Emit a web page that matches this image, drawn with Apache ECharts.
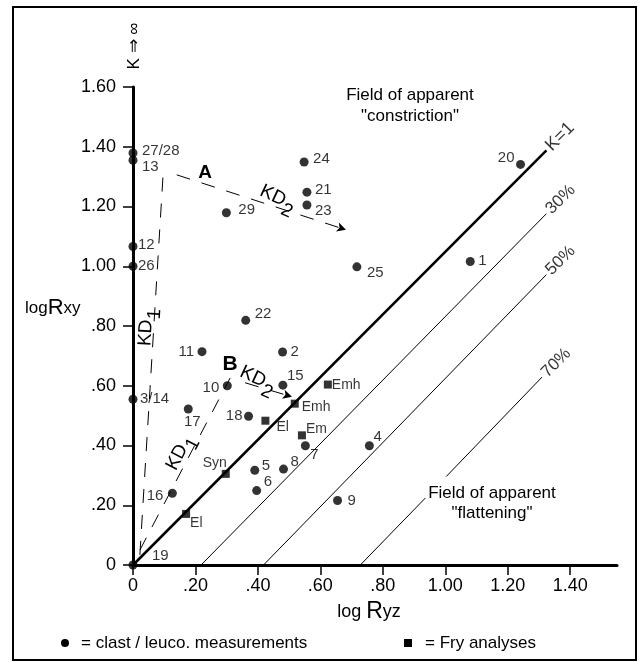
<!DOCTYPE html>
<html>
<head>
<meta charset="utf-8">
<title>logRxy / log Ryz</title>
<script src="https://cdn.jsdelivr.net/npm/echarts@6/dist/echarts.min.js"></script>
<style>
    html, body { margin: 0; padding: 0; background: #fff; }
    #main { width: 640px; height: 662px; }
</style>
</head>
<body>
<div id="main"></div>
<script>
    // axis ticks
    var xTicks = [0, 0.2, 0.4, 0.6, 0.8, 1.0, 1.2, 1.4];
    var xTickLabels = ['0', '.20', '.40', '.60', '.80', '1.00', '1.20', '1.40'];
    var yTicks = [0, 0.2, 0.4, 0.6, 0.8, 1.0, 1.2, 1.4, 1.6];
    var yTickLabels = ['0', '.20', '.40', '.60', '.80', '1.00', '1.20', '1.40', '1.60'];

    // clast / leuco. measurements
    var clastNames = ['27/28', '13', '12', '26', '29', '24', '21', '23', '25', '20', '1', '22', '11', '2',
        '15', '10', '3/14', '17', '18', '16', '5', '6', '8', '7', '4', '9', '19'];
    var clastRyz = [0, 0, 0, 0, 0.299, 0.548, 0.557, 0.557, 0.717, 1.241, 1.080, 0.361, 0.221, 0.479,
        0.480, 0.302, 0, 0.177, 0.370, 0.126, 0.390, 0.396, 0.482, 0.552, 0.757, 0.655, 0];
    var clastRxy = [1.379, 1.355, 1.066, 1.000, 1.179, 1.349, 1.248, 1.205, 0.998, 1.341, 1.016, 0.819, 0.714, 0.713,
        0.602, 0.600, 0.555, 0.522, 0.498, 0.240, 0.317, 0.249, 0.321, 0.399, 0.399, 0.216, 0];

    // Fry analyses
    var fryNames = ['El', 'Syn', 'El', 'Emh', 'Em', 'Emh'];
    var fryRyz = [0.170, 0.297, 0.424, 0.518, 0.541, 0.624];
    var fryRxy = [0.171, 0.305, 0.483, 0.540, 0.434, 0.604];

    // reference lines (K=1 and % lines)
    var lineK1 = [[0, 0], [1.324, 1.388]];
    var line30 = [[0.218, 0], [1.324, 1.176]];
    var line50 = [[0.418, 0], [1.324, 0.972]];
    var line70a = [[0.728, 0], [0.936, 0.224]];
    var line70b = [[1.003, 0.296], [1.31, 0.629]];
    var lineNames = ['K=1', '30%', '50%', '70%'];

    // KD paths
    var pathA1 = [[0.022, 0.034], [0.096, 1.300]];
    var pathA2 = [[0.140, 1.306], [0.682, 1.122]];
    var pathB1 = [[0.022, 0.050], [0.311, 0.626]];
    var pathB2 = [[0.359, 0.610], [0.509, 0.563]];

    // label placement: [dx, dy, align]
    var clastLabelPos = [[9, -2, 'left'], [9, 7, 'left'], [5, -2, 'left'], [5, 0, 'left'], [12, -3, 'left'],
        [9, -3, 'left'], [8, -2, 'left'], [8, 6, 'left'], [10, 6, 'left'], [-6, -7, 'right'], [8, -1, 'left'],
        [9, -6, 'left'], [-8, 0, 'right'], [8, 0, 'left'], [4, -9, 'left'], [-8, 2, 'right'], [7, 0, 'left'],
        [4, 13, 'center'], [-6, 0, 'right'], [-9, 3, 'right'], [7, -4, 'left'], [7, -9, 'left'], [7, -7, 'left'],
        [5, 9, 'left'], [4, -9, 'left'], [10, 0, 'left'], [19, -9, 'left']];
    var fryLabelPos = [[4, 9, 'left'], [-11, -11, 'center'], [11, 6, 'left'], [7, 3, 'left'], [4, -6, 'left'], [4, 1, 'left']];

    var FONT = '"Liberation Sans", Arial, Helvetica, sans-serif';

    function pick(ticks, labels) {
        return function (v) {
            for (var i = 0; i < ticks.length; i++) {
                if (Math.abs(ticks[i] - v) < 1e-6) return labels[i];
            }
            return '';
        };
    }

    function pointItems(names, xs, ys, pos, size) {
        return names.map(function (n, i) {
            return {
                value: [xs[i], ys[i]],
                label: {
                    show: true, formatter: n, position: 'inside',
                    align: pos[i][2], verticalAlign: 'middle',
                    offset: [pos[i][0], pos[i][1]],
                    color: '#000', fontSize: size, fontFamily: FONT
                }
            };
        });
    }

    function refLine(data, width) {
        return {
            type: 'line', data: data, symbol: 'none', silent: true, clip: false,
            lineStyle: {color: '#000', width: width}
        };
    }

    function dashPath(a, b, arrow) {
        return {
            type: 'line', data: [], silent: true,
            markLine: {
                silent: true, animation: false,
                symbol: ['none', arrow ? 'arrow' : 'none'], symbolSize: [7, 9],
                label: {show: false},
                lineStyle: {color: '#000', width: 1, type: [14, 12]},
                emphasis: {disabled: true},
                data: [[{coord: a}, {coord: b}]]
            }
        };
    }

    var ends = [lineK1[1], line30[1], line50[1], line70b[1]];

    function kdGroup(x, y, rot, sub) {
        return {
            type: 'group', x: x, y: y, rotation: rot,
            children: [
                {type: 'text', x: 0, y: 0, style: {text: 'KD', font: '19px ' + FONT, fill: '#000', verticalAlign: 'middle'}},
                {type: 'text', x: 27, y: 8, style: {text: sub, font: '19px ' + FONT, fill: '#000', verticalAlign: 'middle'}}
            ]
        };
    }

    var chartDom = document.getElementById('main');
    var myChart = echarts.init(chartDom);
    var option = {
        animation: false,
        grid: {left: 133, top: 87, width: 484, height: 478, containLabel: false},
        xAxis: {
            type: 'value', min: 0, max: 1.55, interval: 0.2,
            axisLine: {onZero: false, lineStyle: {color: '#000', width: 3}},
            axisTick: {show: true, length: 10, customValues: xTicks, lineStyle: {color: '#000', width: 1.5}},
            axisLabel: {customValues: xTicks, formatter: pick(xTicks, xTickLabels), margin: 12,
                color: '#000', fontSize: 18, fontFamily: FONT},
            splitLine: {show: false}
        },
        yAxis: {
            type: 'value', min: 0, max: 1.6, interval: 0.2,
            axisLine: {onZero: false, lineStyle: {color: '#000', width: 3}},
            axisTick: {show: true, length: 10, customValues: yTicks, lineStyle: {color: '#000', width: 1.5}},
            axisLabel: {customValues: yTicks, formatter: pick(yTicks, yTickLabels), margin: 17,
                color: '#000', fontSize: 18, fontFamily: FONT},
            splitLine: {show: false}
        },
        series: [
            refLine(lineK1, 2.5),
            refLine(line30, 1),
            refLine(line50, 1),
            refLine(line70a, 1),
            refLine(line70b, 1),
            dashPath(pathA1[0], pathA1[1], false),
            dashPath(pathA2[0], pathA2[1], true),
            dashPath(pathB1[0], pathB1[1], false),
            dashPath(pathB2[0], pathB2[1], true),
            {
                type: 'scatter', silent: true, clip: false, symbol: 'circle', symbolSize: 1,
                itemStyle: {color: 'rgba(0,0,0,0)'},
                data: ends.map(function (p, i) {
                    return {
                        value: p,
                        label: {
                            show: true, formatter: lineNames[i], position: 'inside', rotate: 45,
                            align: 'left', verticalAlign: 'middle', offset: [3, 0],
                            color: '#000', fontSize: i === 0 ? 18 : 17, fontFamily: FONT
                        }
                    };
                })
            },
            {
                type: 'scatter', silent: true, clip: false, symbol: 'circle', symbolSize: 9,
                itemStyle: {color: '#000'},
                data: pointItems(clastNames, clastRyz, clastRxy, clastLabelPos, 15)
            },
            {
                type: 'scatter', silent: true, clip: false, symbol: 'rect', symbolSize: 8,
                itemStyle: {color: '#000'},
                data: pointItems(fryNames, fryRyz, fryRxy, fryLabelPos, 14)
            }
        ],
        graphic: [
            {type: 'rect', shape: {x: 13, y: 7, width: 623, height: 653},
                style: {fill: 'none', stroke: '#000', lineWidth: 2}},
            {type: 'text', x: 134, y: 46, rotation: Math.PI / 2,
                style: {text: 'K \u21D2 \u221E', font: '17px ' + FONT, fill: '#000', align: 'center', verticalAlign: 'middle'}},
            {type: 'text', x: 25, y: 308,
                style: {text: '{a|log}{b|R}{a|xy}', fill: '#000', verticalAlign: 'middle',
                    rich: {a: {fontSize: 17, fontFamily: FONT}, b: {fontSize: 22, fontFamily: FONT}}}},
            {type: 'text', x: 369, y: 612,
                style: {text: '{a|log }{b|R}{a|yz}', fill: '#000', align: 'center', verticalAlign: 'middle',
                    rich: {a: {fontSize: 18, fontFamily: FONT}, b: {fontSize: 23, fontFamily: FONT}}}},
            {type: 'text', x: 410, y: 95,
                style: {text: 'Field of apparent', font: '17px ' + FONT, fill: '#000', align: 'center', verticalAlign: 'middle'}},
            {type: 'text', x: 410, y: 116,
                style: {text: '"constriction"', font: '17px ' + FONT, fill: '#000', align: 'center', verticalAlign: 'middle'}},
            {type: 'text', x: 492, y: 493,
                style: {text: 'Field of apparent', font: '17px ' + FONT, fill: '#000', align: 'center', verticalAlign: 'middle'}},
            {type: 'text', x: 492, y: 513,
                style: {text: '"flattening"', font: '17px ' + FONT, fill: '#000', align: 'center', verticalAlign: 'middle'}},
            {type: 'text', x: 205, y: 173,
                style: {text: 'A', font: 'bold 19px ' + FONT, fill: '#000', align: 'center', verticalAlign: 'middle'}},
            {type: 'text', x: 230, y: 364,
                style: {text: 'B', font: 'bold 21px ' + FONT, fill: '#000', align: 'center', verticalAlign: 'middle'}},
            kdGroup(145, 346, 1.51, '1'),
            kdGroup(261, 190, -0.44, '2'),
            kdGroup(171, 469, 1.09, '1'),
            kdGroup(241, 371, -0.44, '2'),
            {type: 'circle', shape: {cx: 65, cy: 643, r: 4}, style: {fill: '#000'}},
            {type: 'text', x: 81, y: 643,
                style: {text: '= clast / leuco. measurements', font: '17px ' + FONT, fill: '#000', verticalAlign: 'middle'}},
            {type: 'rect', shape: {x: 404, y: 639, width: 8, height: 8}, style: {fill: '#000'}},
            {type: 'text', x: 425, y: 643,
                style: {text: '= Fry analyses', font: '17px ' + FONT, fill: '#000', verticalAlign: 'middle'}}
        ]
    };

    option && myChart.setOption(option);
</script>
</body>
</html>
